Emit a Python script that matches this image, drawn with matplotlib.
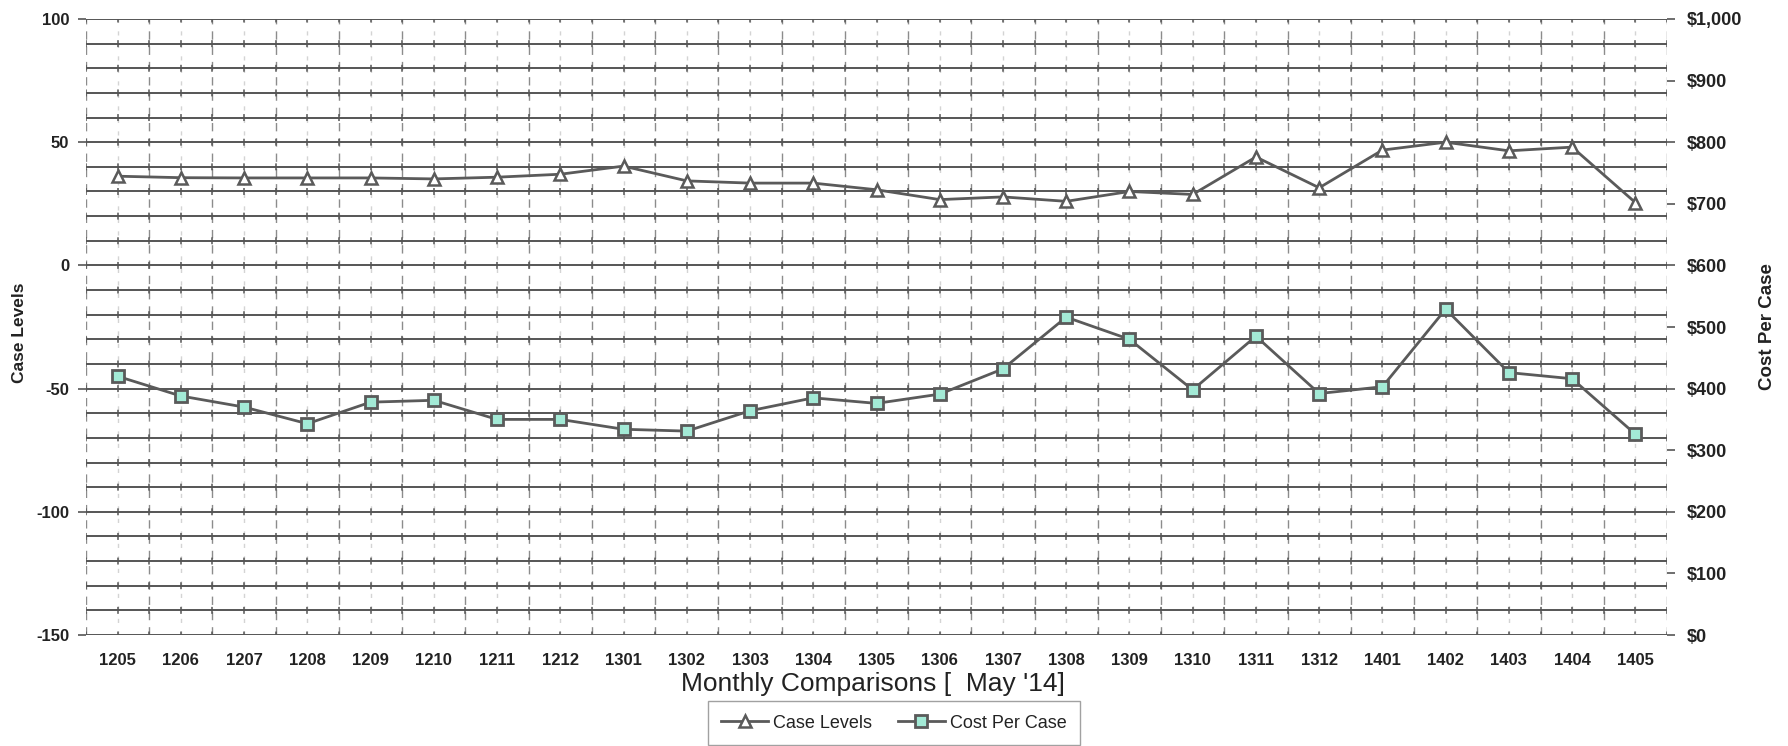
import matplotlib
matplotlib.use("Agg")
import matplotlib.pyplot as plt
import numpy as np

plt.rcParams['font.family'] = ['Liberation Sans', 'DejaVu Sans']
plt.rcParams['lines.scale_dashes'] = False

months = ["1205", "1206", "1207", "1208", "1209", "1210", "1211", "1212",
          "1301", "1302", "1303", "1304", "1305", "1306", "1307", "1308",
          "1309", "1310", "1311", "1312", "1401", "1402", "1403", "1404", "1405"]
case_levels = [36.2, 35.6, 35.5, 35.5, 35.5, 35.1, 35.8, 37.0,
               40.3, 34.3, 33.4, 33.4, 30.7, 26.7, 27.8, 26.0,
               30.0, 28.8, 44.0, 31.5, 46.8, 50.0, 46.5, 48.0, 25.5]
cost_per_case = [420, 388, 370, 343, 378, 381, 350, 350,
                 334, 331, 364, 385, 376, 391, 432, 516,
                 480, 398, 485, 392, 403, 529, 426, 416, 326]
left_ticks = [-150, -100, -50, 0, 50, 100]
right_ticks = [0, 100, 200, 300, 400, 500, 600, 700, 800, 900, 1000]
right_labels = ["$0", "$100", "$200", "$300", "$400", "$500", "$600",
                "$700", "$800", "$900", "$1,000"]

W, H, DPI = 1788, 746, 100
fig = plt.figure(figsize=(W / DPI, H / DPI), dpi=DPI)
L, R, T, B = 86, 1667, 19, 635
ax = fig.add_axes([L / W, 1 - B / H, (R - L) / W, (B - T) / H])
ax2 = ax.twinx()

GRID = "#555555"
x = np.arange(len(months))
ax.set_xlim(-0.5, len(months) - 0.5)
ax.set_ylim(-150, 100)
ax2.set_ylim(0, 1000)

# horizontal grid
for v in range(-150, 101, 10):
    ax.axhline(v, color=GRID, lw=1.4, zorder=1)

# vertical "cross" ticks + dashed verticals
per_pt = (B - T) / 25 * 72 / DPI
on = 5.0
for k in np.arange(-0.5, len(months), 0.5):
    ln = ax.axvline(k, color=GRID, lw=1.1, zorder=1)
    ln.set_linestyle((on / 2, (on, per_pt - on)))
for k in np.arange(-0.5, len(months), 1.0):
    ax.axvline(k, color="#8c8c8c", lw=1.0, zorder=0.9, linestyle=(0, (6, 5)))
for k in np.arange(0, len(months), 1.0):
    ax.axvline(k, color="#d4d4d4", lw=1.0, zorder=0.8, linestyle=(0, (3, 6)))

for s in ["left", "right", "top", "bottom"]:
    ax.spines[s].set_visible(False)
    ax2.spines[s].set_visible(False)

LINE = "#5a5a5a"
l1, = ax.plot(x, case_levels, color=LINE, lw=2.0, marker="^", ms=8,
              mfc="white", mec=LINE, mew=1.8, zorder=5, label="Case Levels")
l2, = ax2.plot(x, cost_per_case, color=LINE, lw=2.0, marker="s", ms=8.5,
               mfc="#a3ead6", mec=LINE, mew=2.0, zorder=5, label="Cost Per Case")

ax.set_xticks(x)
ax.set_xticklabels(months, fontsize=12, fontweight="bold", color="#222222")
ax.tick_params(axis="x", length=0, pad=13)
ax.set_yticks(left_ticks)
ax.set_yticklabels([str(t) for t in left_ticks], fontsize=12,
                   fontweight="bold", color="#222222")
ax.tick_params(axis="y", length=6, width=1.2, color=GRID, pad=6)
ax2.set_yticks(right_ticks)
ax2.set_yticklabels(right_labels, fontsize=13, fontweight="bold", color="#222222")
ax2.tick_params(axis="y", length=6, width=1.2, color=GRID, pad=8)

fig.text(20 / W, 1 - 333 / H, "Case Levels", rotation=90, ha="center",
         va="center", fontsize=12.5, fontweight="bold", color="#222222")
fig.text(1767 / W, 1 - 327 / H, "Cost Per Case", rotation=90, ha="center",
         va="center", fontsize=13.5, fontweight="bold", color="#222222")
fig.text(873 / W, 1 - 684 / H, "Monthly Comparisons [  May '14]", ha="center",
         va="center", fontsize=19, color="#222222")

leg = fig.legend(handles=[l1, l2], loc="upper center",
                 bbox_to_anchor=(894 / W, 1 - 701 / H), ncol=2,
                 frameon=True, fancybox=False, fontsize=13,
                 handlelength=2.6, columnspacing=1.4, borderpad=0.75,
                 handletextpad=0.3, borderaxespad=0)
leg.get_frame().set_edgecolor("#8a8a8a")
leg.get_frame().set_linewidth(1.0)
for t in leg.get_texts():
    t.set_color("#222222")

fig.savefig("out.png", dpi=DPI, facecolor="white")
